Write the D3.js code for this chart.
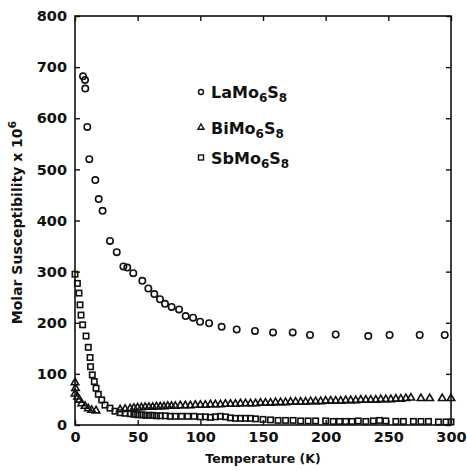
<!DOCTYPE html>
<html>
<head>
<meta charset="utf-8">
<script src="https://cdn.jsdelivr.net/npm/d3@7"></script>
<style>
  body { margin: 0; background: #fff; }
  svg text { font-family: "DejaVu Sans", sans-serif; font-weight: bold; fill: #111; }
</style>
</head>
<body>
<div id="chart"></div>
<script>
// Data: [temperature K, molar susceptibility x 10^6]
var laData = [[6.4,682],[8,675],[8.2,658],[9.8,583],[11.4,520],[16.2,479],[18.9,442],[22,419],
  [27.9,360],[33.3,338],[38.6,310],[41.7,308],[46.5,297],[53.7,282],[58.5,267],[63.3,256],
  [67.8,246],[71.8,237],[77.1,231],[83,226],[88.3,213],[94.2,210],[99.8,202],[107,199],
  [117,192],[129,187],[143.6,184],[158,181],[173.7,181],[187.5,176],[208,177],[234,174],
  [251,176],[275,176],[295,176]];

var biData = [[0,83],[0.4,72],[0,61],[2,55],[3.5,49],[5.3,42],[8,37],[10.6,32],[13.3,29],[16.8,28],
  [36,30],[40,31],[44,32],[47,33],[50,34],[53,34],[56,35],[59,35],[62,35],[65,36],[68,36],[71,36],
  [74,37],[77,37],[80,37],[84,38],[88,38],[92,38],[96,39],[100,39],[104,39],[108,40],[112,40],
  [116,40],[120,41],[124,41],[128,41],[132,42],[136,42],[140,42],[144,42],[148,43],[152,43],
  [156,43],[160,44],[164,44],[168,44],[172,45],[176,45],[180,45],[184,45],[188,46],[192,46],
  [196,46],[200,47],[204,47],[208,47],[212,47],[216,48],[220,48],[224,48],[228,49],[232,49],
  [236,49],[240,49],[244,50],[248,50],[252,50],[256,51],[260,51],[264,52],[268,53],[276,52],
  [283,52],[293,52],[300,52]];

var sbData = [[0,295],[1.9,277],[3.2,258],[4,235],[4.8,215],[6.1,196],[8.8,174],[10.6,152],
  [12,132],[12.4,114],[13.8,98],[15.4,85],[16.8,72],[18.6,60],[21.3,49],[23.9,39],[27.9,33],
  [31.9,27],[35.9,24],[40,23],[44,22],[47,21],[50,20],[53,20],[56,19],[59,19],[62,19],[65,18],
  [68,18],[72,18],[76,17],[80,17],[85,17],[90,17],[95,17],[100,16],[104,16],[108,15],[112,16],
  [116,17],[120,16],[124,14],[128,13],[132,13],[136,13],[140,13],[144,12],[150,11],[156,10],
  [162,9],[168,9],[174,9],[180,8],[186,8],[192,8],[200,8],[206,7],[211,7],[216,7],[221,7],
  [226,8],[232,7],[238,8],[243,9],[248,8],[256,7],[262,7],[270,7],[276,7],[282,7],[290,6],
  [296,6],[300,6]];

var xTicks = [0, 50, 100, 150, 200, 250, 300];
var yTicks = [0, 100, 200, 300, 400, 500, 600, 700, 800];
var legendNames = [["LaMo", "6", "S", "8"], ["BiMo", "6", "S", "8"], ["SbMo", "6", "S", "8"]];

var svgWidth = 467, svgHeight = 471;
var margin = { top: 16, right: 16, bottom: 46, left: 75 };
var width = svgWidth - margin.left - margin.right;
var height = svgHeight - margin.top - margin.bottom;

var svg = d3.select("#chart").append("svg")
  .attr("width", svgWidth)
  .attr("height", svgHeight);

var chartGroup = svg.append("g")
  .attr("transform", `translate(${margin.left}, ${margin.top})`);

var xScale = d3.scaleLinear().domain([0, 300]).range([0, width]);
var yScale = d3.scaleLinear().domain([0, 800]).range([height, 0]);

// frame
chartGroup.append("rect")
  .attr("width", width).attr("height", height)
  .attr("fill", "none").attr("stroke", "#111").attr("stroke-width", 1.6);

// axes, ticks point inward
function styleAxis(g) {
  g.select(".domain").remove();
  g.selectAll(".tick line").attr("stroke", "#111").attr("stroke-width", 1.4);
  g.selectAll(".tick text").attr("font-size", "14.5px").attr("fill", "#111");
}

chartGroup.append("g")
  .attr("transform", `translate(0, ${height})`)
  .call(d3.axisBottom(xScale).tickValues(xTicks).tickSize(-5).tickPadding(7).tickFormat(d3.format("d")))
  .call(styleAxis);

chartGroup.append("g")
  .call(d3.axisLeft(yScale).tickValues(yTicks).tickSize(-5).tickPadding(8).tickFormat(d3.format("d")))
  .call(styleAxis);

chartGroup.append("g")
  .call(d3.axisTop(xScale).tickValues(xTicks).tickSize(-5).tickFormat(""))
  .call(styleAxis);

chartGroup.append("g")
  .attr("transform", `translate(${width}, 0)`)
  .call(d3.axisRight(yScale).tickValues(yTicks).tickSize(-5).tickFormat(""))
  .call(styleAxis);

// markers
var markStroke = 1.6;
chartGroup.append("g").selectAll("circle")
  .data(laData).enter().append("circle")
  .attr("cx", d => xScale(d[0]))
  .attr("cy", d => yScale(d[1]))
  .attr("r", 3.2)
  .attr("fill", "none").attr("stroke", "#111").attr("stroke-width", markStroke);

var triangle = d3.symbol().type(d3.symbolTriangle).size(24);
chartGroup.append("g").selectAll("path")
  .data(biData).enter().append("path")
  .attr("d", triangle)
  .attr("transform", d => `translate(${xScale(d[0])}, ${yScale(d[1])})`)
  .attr("fill", "none").attr("stroke", "#111").attr("stroke-width", markStroke);

chartGroup.append("g").selectAll("rect")
  .data(sbData).enter().append("rect")
  .attr("x", d => xScale(d[0]) - 2.7)
  .attr("y", d => yScale(d[1]) - 2.7)
  .attr("width", 5.4).attr("height", 5.4)
  .attr("fill", "none").attr("stroke", "#111").attr("stroke-width", markStroke);

// legend
var legendY = [92, 127.5, 157.5];
var legend = svg.append("g");
legend.append("circle").attr("cx", 201).attr("cy", legendY[0]).attr("r", 2.5)
  .attr("fill", "none").attr("stroke", "#111").attr("stroke-width", 1.4);
legend.append("path").attr("d", d3.symbol().type(d3.symbolTriangle).size(16))
  .attr("transform", `translate(201, ${legendY[1]})`)
  .attr("fill", "none").attr("stroke", "#111").attr("stroke-width", 1.4);
legend.append("rect").attr("x", 198.5).attr("y", legendY[2] - 2.5).attr("width", 5).attr("height", 5)
  .attr("fill", "none").attr("stroke", "#111").attr("stroke-width", 1.4);

legendNames.forEach(function(parts, i) {
  var t = legend.append("text")
    .attr("x", 211).attr("y", legendY[i] + 6)
    .attr("font-size", "16px");
  t.append("tspan").text(parts[0]);
  t.append("tspan").attr("font-size", "12px").attr("dy", 4).text(parts[1]);
  t.append("tspan").attr("dy", -4).text(parts[2]);
  t.append("tspan").attr("font-size", "12px").attr("dy", 4).text(parts[3]);
});

// axis titles
svg.append("text")
  .attr("x", margin.left + width / 2)
  .attr("y", 463)
  .attr("text-anchor", "middle")
  .attr("font-size", "12.5px")
  .text("Temperature (K)");

var yTitle = svg.append("text")
  .attr("transform", `translate(22, ${margin.top + height / 2 + 2}) rotate(-90)`)
  .attr("text-anchor", "middle")
  .attr("font-size", "14px");
yTitle.append("tspan").text("Molar Susceptibility x 10");
yTitle.append("tspan").attr("font-size", "11px").attr("dy", -6).text("6");
</script>
</body>
</html>
